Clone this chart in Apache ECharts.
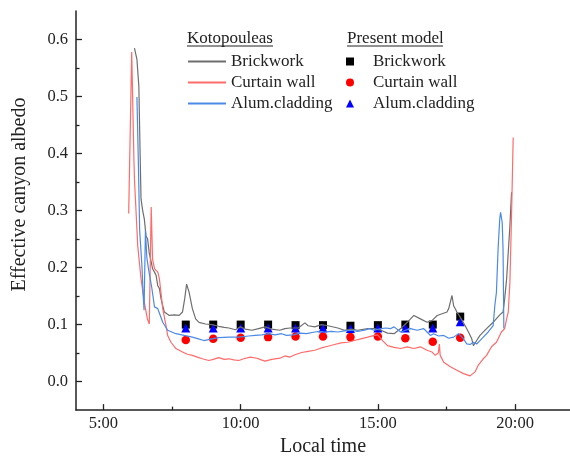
<!DOCTYPE html>
<html>
<head>
<meta charset="utf-8">
<script src="https://cdn.jsdelivr.net/npm/echarts@6/dist/echarts.min.js"></script>
<style>
  html, body { margin: 0; padding: 0; background: #fff; }
  #chart { width: 570px; height: 462px; }
</style>
</head>
<body>
<div id="chart"></div>
<script>
// Measured effective canyon albedo (Kotopouleas), [local hour, albedo]
const kotoBrickwork = [
  [6.13,0.585],[6.22,0.565],[6.29,0.518],[6.34,0.39],[6.37,0.32],[6.43,0.30],[6.49,0.285],
  [6.55,0.256],[6.61,0.25],[6.67,0.225],[6.73,0.212],[6.79,0.198],[6.86,0.192],[6.92,0.186],
  [6.98,0.168],[7.04,0.163],[7.10,0.145],[7.16,0.133],[7.22,0.122],[7.28,0.120],[7.40,0.116],
  [7.58,0.117],[7.76,0.116],[7.88,0.122],[7.96,0.145],[8.03,0.171],[8.12,0.157],[8.24,0.128],
  [8.36,0.110],[8.48,0.104],[8.72,0.101],[8.96,0.100],[9.20,0.097],[9.40,0.095],[9.57,0.094],
  [9.81,0.091],[9.99,0.096],[10.17,0.092],[10.41,0.090],[10.65,0.093],[10.89,0.096],[11.13,0.092],
  [11.43,0.090],[11.61,0.093],[11.80,0.094],[12.10,0.094],[12.34,0.103],[12.46,0.098],[12.70,0.096],
  [12.94,0.100],[13.18,0.098],[13.54,0.094],[13.78,0.090],[14.02,0.092],[14.26,0.090],[14.63,0.093],
  [14.87,0.093],[15.11,0.090],[15.35,0.085],[15.59,0.084],[15.83,0.093],[16.07,0.104],[16.31,0.116],
  [16.55,0.110],[16.79,0.104],[16.97,0.107],[17.16,0.116],[17.34,0.119],[17.52,0.122],[17.58,0.128],
  [17.70,0.151],[17.76,0.133],[17.88,0.122],[18.00,0.113],[18.18,0.098],[18.30,0.087],[18.42,0.075],
  [18.48,0.063],[18.60,0.072],[18.72,0.081],[18.96,0.093],[19.20,0.104],[19.44,0.117],[19.56,0.122],
  [19.62,0.145],[19.69,0.180],[19.75,0.227],[19.81,0.273],[19.87,0.332]
];
const kotoCurtainWall = [
  [5.92,0.295],[6.03,0.578],[6.11,0.39],[6.13,0.355],[6.25,0.238],[6.37,0.180],[6.49,0.139],
  [6.60,0.110],[6.67,0.101],[6.74,0.306],[6.79,0.215],[6.86,0.198],[6.98,0.192],[7.04,0.180],
  [7.16,0.128],[7.28,0.098],[7.34,0.081],[7.46,0.069],[7.64,0.058],[7.88,0.052],[8.06,0.048],
  [8.24,0.046],[8.42,0.043],[8.60,0.040],[8.84,0.037],[9.00,0.039],[9.20,0.042],[9.40,0.039],
  [9.57,0.040],[9.75,0.038],[9.93,0.037],[10.11,0.040],[10.35,0.043],[10.59,0.041],[10.75,0.038],
  [10.89,0.036],[11.13,0.039],[11.43,0.041],[11.61,0.045],[11.80,0.043],[11.98,0.047],[12.22,0.051],
  [12.46,0.053],[12.70,0.055],[12.94,0.059],[13.18,0.062],[13.42,0.065],[13.66,0.068],[13.90,0.069],
  [14.14,0.072],[14.38,0.075],[14.63,0.078],[14.87,0.081],[14.99,0.082],[15.17,0.072],[15.35,0.063],
  [15.59,0.060],[15.83,0.058],[16.07,0.061],[16.31,0.058],[16.55,0.061],[16.79,0.055],[16.97,0.052],
  [17.09,0.046],[17.20,0.050],[17.24,0.066],[17.27,0.046],[17.40,0.034],[17.64,0.026],[17.88,0.020],
  [18.12,0.014],[18.36,0.010],[18.42,0.012],[18.54,0.017],[18.66,0.029],[18.84,0.040],[18.96,0.046],
  [19.14,0.061],[19.32,0.069],[19.50,0.087],[19.62,0.093],[19.69,0.110],[19.75,0.122],[19.81,0.174],
  [19.87,0.291],[19.93,0.428]
];
const kotoAlumCladding = [
  [6.22,0.499],[6.27,0.39],[6.32,0.265],[6.40,0.205],[6.45,0.150],[6.48,0.125],[6.53,0.265],
  [6.58,0.218],[6.65,0.195],[6.70,0.192],[6.76,0.165],[6.86,0.131],[6.92,0.132],[6.98,0.128],
  [7.04,0.120],[7.16,0.104],[7.34,0.090],[7.64,0.084],[7.94,0.081],[8.24,0.078],[8.46,0.075],
  [8.66,0.072],[8.96,0.075],[9.20,0.077],[9.57,0.078],[9.93,0.078],[10.29,0.080],[10.53,0.081],
  [10.77,0.082],[11.01,0.084],[11.25,0.082],[11.49,0.084],[11.67,0.081],[11.92,0.082],[12.16,0.085],
  [12.40,0.084],[12.70,0.087],[12.88,0.088],[13.06,0.087],[13.30,0.088],[13.54,0.087],[13.78,0.089],
  [14.02,0.090],[14.26,0.088],[14.51,0.090],[14.69,0.093],[14.87,0.090],[15.11,0.093],[15.29,0.094],
  [15.47,0.093],[15.59,0.096],[15.83,0.087],[16.01,0.090],[16.19,0.093],[16.43,0.090],[16.67,0.093],
  [16.79,0.087],[16.91,0.081],[17.03,0.084],[17.21,0.080],[17.40,0.081],[17.58,0.076],[17.76,0.078],
  [17.94,0.084],[18.12,0.075],[18.24,0.066],[18.36,0.065],[18.48,0.069],[18.60,0.066],[18.72,0.072],
  [18.84,0.078],[19.02,0.087],[19.20,0.098],[19.26,0.133],[19.32,0.157],[19.38,0.233],[19.44,0.285],
  [19.47,0.297],[19.53,0.279],[19.56,0.233],[19.59,0.093]
];

// Present model, hourly values
const modelHours = [8, 9, 10, 11, 12, 13, 14, 15, 16, 17, 18];
const modelBrickwork = [0.100, 0.100, 0.100, 0.100, 0.099, 0.099, 0.098, 0.099, 0.100, 0.100, 0.114];
const modelCurtainWall = [0.073, 0.075, 0.077, 0.078, 0.079, 0.079, 0.078, 0.079, 0.076, 0.070, 0.077];
const modelAlumCladding = [0.094, 0.094, 0.094, 0.094, 0.094, 0.094, 0.093, 0.094, 0.094, 0.094, 0.105];

// Axis ticks
const xMajorTicks = [5, 10, 15, 20];
const xMinorTicks = [7.5, 12.5, 17.5];
const yMajorTicks = [0, 0.1, 0.2, 0.3, 0.4, 0.5, 0.6];
const yMinorTicks = [0.05, 0.15, 0.25, 0.35, 0.45, 0.55];

const SERIF = "'Liberation Serif', 'Times New Roman', serif";
const INK = '#222';

const pair = (hours, vals) => hours.map((h, i) => [h, vals[i]]);
const MODEL = ' (model)';

const chart = echarts.init(document.getElementById('chart'), null, { renderer: 'canvas' });

const baseX = { type: 'value', min: 4, max: 22, gridIndex: 0, position: 'bottom', splitLine: { show: false } };
const baseY = { type: 'value', min: -0.05, max: 0.65, gridIndex: 0, position: 'left', splitLine: { show: false } };
const legendText = { fontFamily: SERIF, fontSize: 17, color: INK, lineHeight: 17 };

chart.setOption({
  animation: false,
  backgroundColor: '#fff',
  grid: { left: 76, right: -4, top: 11, bottom: 50 },
  xAxis: [
    Object.assign({}, baseX, {
      name: 'Local time', nameLocation: 'middle', nameGap: 25,
      nameTextStyle: { fontFamily: SERIF, fontSize: 20, color: INK },
      axisLine: { onZero: false, lineStyle: { color: INK, width: 1.5 } },
      axisTick: { inside: true, length: 6, customValues: xMajorTicks, lineStyle: { color: INK, width: 1.3 } },
      axisLabel: { customValues: xMajorTicks, margin: 5, fontFamily: SERIF, fontSize: 16.5, color: INK,
        formatter: v => Math.round(v) + ':00' }
    }),
    Object.assign({}, baseX, {
      axisLine: { show: false, onZero: false },
      axisTick: { inside: true, length: 3.5, customValues: xMinorTicks, lineStyle: { color: INK, width: 1.3 } },
      axisLabel: { show: false }
    })
  ],
  yAxis: [
    Object.assign({}, baseY, {
      name: 'Effective canyon albedo', nameLocation: 'middle', nameGap: 46,
      nameTextStyle: { fontFamily: SERIF, fontSize: 20, color: INK, padding: [0, 0, 0, 32] },
      axisLine: { onZero: false, lineStyle: { color: INK, width: 1.5 } },
      axisTick: { inside: true, length: 6, customValues: yMajorTicks, lineStyle: { color: INK, width: 1.3 } },
      axisLabel: { customValues: yMajorTicks, margin: 8, fontFamily: SERIF, fontSize: 16.5, color: INK,
        formatter: v => v.toFixed(1) }
    }),
    Object.assign({}, baseY, {
      axisLine: { show: false, onZero: false },
      axisTick: { inside: true, length: 3.5, customValues: yMinorTicks, lineStyle: { color: INK, width: 1.3 } },
      axisLabel: { show: false }
    })
  ],
  legend: [
    {
      // line-only keys: the point symbol of each key is hidden
      orient: 'vertical', left: 187, top: 53, padding: 0, itemWidth: 38, itemHeight: 8, itemGap: 4,
      selectedMode: false, itemStyle: { opacity: 0 },
      data: ['Brickwork', 'Curtain wall', 'Alum.cladding'],
      textStyle: legendText
    },
    {
      orient: 'vertical', left: 346, top: 53, padding: 0, itemWidth: 8, itemHeight: 8, itemGap: 4,
      selectedMode: false,
      data: ['Brickwork' + MODEL, 'Curtain wall' + MODEL, 'Alum.cladding' + MODEL],
      formatter: n => n.replace(MODEL, ''),
      textStyle: Object.assign({ padding: [0, 0, 0, 14] }, legendText)
    }
  ],
  graphic: [
    { type: 'text', left: 187, top: 30, style: { text: 'Kotopouleas', font: '17px ' + SERIF, fill: INK } },
    { type: 'line', shape: { x1: 187, y1: 46, x2: 273, y2: 46 }, style: { stroke: INK, lineWidth: 1 } },
    { type: 'text', left: 347, top: 30, style: { text: 'Present model', font: '17px ' + SERIF, fill: INK } },
    { type: 'line', shape: { x1: 347, y1: 46, x2: 443, y2: 46 }, style: { stroke: INK, lineWidth: 1 } }
  ],
  series: [
    { name: 'Brickwork', type: 'line', data: kotoBrickwork, symbol: 'none', showSymbol: false,
      lineStyle: { color: '#6e6e6e', width: 1.2 }, itemStyle: { color: '#6e6e6e' } },
    { name: 'Curtain wall', type: 'line', data: kotoCurtainWall, symbol: 'none', showSymbol: false,
      lineStyle: { color: '#ff6a6a', width: 1.2 }, itemStyle: { color: '#ff6a6a' } },
    { name: 'Alum.cladding', type: 'line', data: kotoAlumCladding, symbol: 'none', showSymbol: false,
      lineStyle: { color: '#4a8ae6', width: 1.2 }, itemStyle: { color: '#4a8ae6' } },
    { name: 'Brickwork' + MODEL, type: 'scatter', data: pair(modelHours, modelBrickwork),
      symbol: 'rect', symbolSize: 8, itemStyle: { color: '#000', opacity: 1 } },
    { name: 'Curtain wall' + MODEL, type: 'scatter', data: pair(modelHours, modelCurtainWall),
      symbol: 'circle', symbolSize: 8.5, itemStyle: { color: '#ff0000', opacity: 1 } },
    { name: 'Alum.cladding' + MODEL, type: 'scatter', data: pair(modelHours, modelAlumCladding),
      symbol: 'triangle', symbolSize: 9, itemStyle: { color: '#0000ff', opacity: 1 } }
  ]
});
</script>
</body>
</html>
